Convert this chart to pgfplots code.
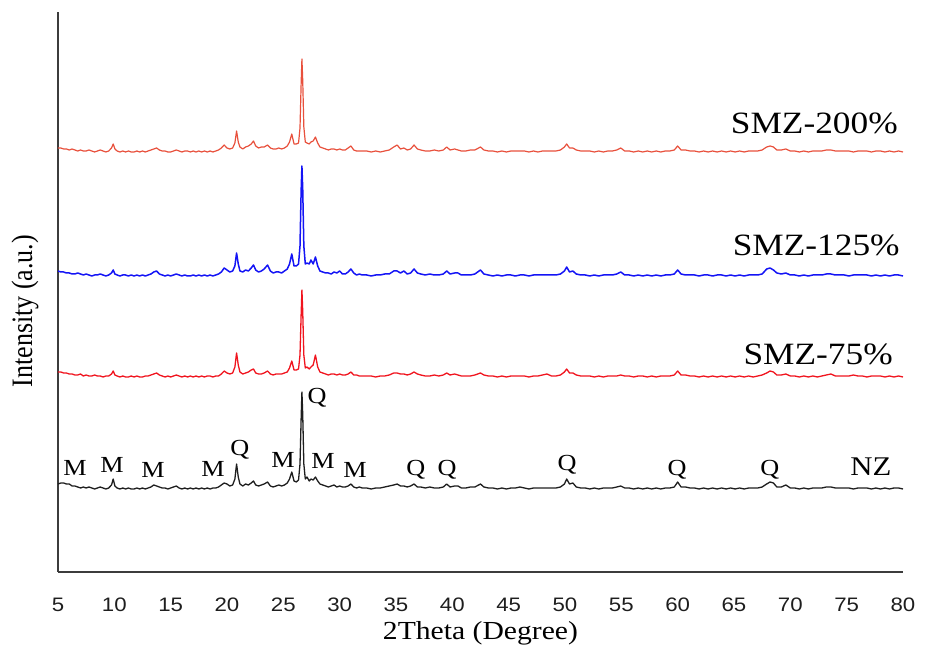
\documentclass[border=0pt]{standalone}
\usepackage{fontspec}
\usepackage{graphicx}
\usepackage{pgfplots}
\usepackage{pgfplotstable}
\pgfplotsset{compat=1.18}
\setmainfont{Liberation Serif}
\newfontfamily\sansf{Liberation Sans}

\definecolor{axisgray}{HTML}{3C3C3C}
\definecolor{nzblack}{HTML}{1E1E1E}
\definecolor{smzred}{HTML}{F0141E}
\definecolor{smzblue}{HTML}{1414F5}
\definecolor{smztomato}{HTML}{E8503C}

% slightly wide lettering
\newcommand{\wide}[1]{\scalebox{1.14}[1]{#1}}

% XRD intensities above each pattern's own baseline (2theta in degrees)
% columns: NZ, SMZ-75%, SMZ-125%, SMZ-200%
\pgfplotstableread{
tt nz a b c
5.00 5 5 5 4
5.25 6 5 4 4
5.50 6 4 4 3
5.75 5 4 3 3
6.00 5 3 3 2
6.25 3 3 2 3
6.50 3 2 2 2
6.75 2 2 3 1
7.00 1 3 2 2
7.25 2 1 1 1
7.50 1 2 2 1
7.75 2 1 1 2
8.00 1 1 0 1
8.25 0 2 1 0
8.50 1 1 1 1
8.75 2 1 2 2
9.00 1 0 1 1
9.25 0 1 0 0
9.50 1 1 1 1
9.75 4 3 3 4
9.90 10 6 6 8
10.05 3 2 2 3
10.25 1 1 1 1
10.50 0 0 0 0
10.75 1 1 1 1
11.00 0 0 1 0
11.25 1 0 0 1
11.50 0 1 1 0
11.75 0 0 0 0
12.00 1 1 1 1
12.25 0 0 0 0
12.50 1 0 1 1
12.75 0 1 0 0
13.00 1 1 1 1
13.25 2 2 2 2
13.50 4 3 4 3
13.75 3 4 5 4
14.00 2 2 2 2
14.25 1 1 1 1
14.50 1 0 0 1
14.75 0 1 1 0
15.00 1 0 0 0
15.25 2 1 1 1
15.50 3 2 2 2
15.75 1 1 1 1
16.00 0 0 0 0
16.25 1 1 1 1
16.50 0 0 0 1
16.75 1 1 0 0
17.00 0 0 1 1
17.25 1 1 0 0
17.50 0 0 1 1
17.75 1 1 0 0
18.00 0 0 1 1
18.25 1 1 0 0
18.50 0 1 1 1
18.75 1 0 0 0
19.00 1 1 1 1
19.25 2 1 2 2
19.50 4 3 4 4
19.75 6 6 8 7
20.00 5 4 6 4
20.25 3 3 4 3
20.50 4 4 5 4
20.70 10 10 10 9
20.85 25 24 23 21
21.00 12 12 12 10
21.15 5 5 5 5
21.40 3 3 4 3
21.65 5 4 6 5
21.90 4 5 5 6
22.15 6 7 8 8
22.35 8 8 11 11
22.55 4 4 6 6
22.80 3 3 4 4
23.05 4 3 5 5
23.30 5 4 7 5
23.60 7 6 11 7
23.85 3 3 5 4
24.10 2 2 3 3
24.35 3 3 4 3
24.60 4 3 4 4
24.85 3 3 3 3
25.10 4 4 5 4
25.35 6 5 7 6
25.55 10 9 12 10
25.75 17 16 22 18
25.95 8 7 10 8
26.15 7 7 10 8
26.35 9 8 12 9
26.48 25 22 30 24
26.58 70 62 85 68
26.65 97 87 110 93
26.72 75 66 88 72
26.82 25 22 30 25
26.95 10 9 12 10
27.10 12 10 13 9
27.30 8 8 12 8
27.45 10 10 16 10
27.65 9 12 12 11
27.85 12 22 19 15
28.05 8 10 10 9
28.25 5 5 5 5
28.50 4 4 4 4
28.75 3 3 3 3
29.00 2 2 3 2
29.25 3 3 2 3
29.50 4 3 4 3
29.75 2 2 3 2
30.00 3 3 5 3
30.25 2 2 2 2
30.50 2 2 2 2
30.75 3 3 4 4
31.00 5 5 7 6
31.25 2 2 3 2
31.50 1 2 1 1
31.75 2 1 2 1
32.00 1 1 1 1
32.40 1 1 1 1
32.80 0 1 0 0
33.20 1 0 1 1
33.60 1 1 1 0
34.00 2 1 2 1
34.40 3 2 2 2
34.80 4 4 5 5
35.10 5 4 5 7
35.40 3 3 3 3
35.70 3 3 5 4
36.00 2 2 2 2
36.30 3 3 3 3
36.60 5 5 7 7
36.90 2 3 3 3
37.20 2 2 2 2
37.60 1 1 1 1
38.00 2 1 2 1
38.40 1 2 1 2
38.80 1 1 1 1
39.20 2 2 2 2
39.50 5 4 5 5
39.80 2 2 2 2
40.20 3 3 3 3
40.50 3 2 3 2
40.80 1 1 1 1
41.20 1 1 1 1
41.60 2 1 1 2
42.00 2 2 2 2
42.50 5 4 6 5
42.80 2 2 2 2
43.20 1 1 1 1
43.60 1 1 0 1
44.00 0 0 1 0
44.40 1 1 0 1
44.80 0 0 1 0
45.20 1 1 1 1
45.60 1 1 0 1
46.00 2 1 1 1
46.40 1 1 1 1
46.80 0 0 0 0
47.20 1 1 1 1
47.60 1 1 1 0
48.00 1 2 1 1
48.40 1 3 1 1
48.80 1 1 1 1
49.20 1 1 1 1
49.60 2 2 2 2
49.95 5 5 5 5
50.15 10 8 9 8
50.40 5 4 4 4
50.70 6 4 5 4
51.00 2 2 2 2
51.40 1 1 1 1
51.80 1 1 1 1
52.20 0 1 0 1
52.60 1 0 1 0
53.00 0 1 0 1
53.40 1 0 1 0
53.80 1 1 1 1
54.20 1 1 1 1
54.60 2 1 2 2
54.95 3 2 4 4
55.30 1 1 1 1
55.70 1 1 1 1
56.10 0 0 0 0
56.50 1 1 1 1
56.90 0 1 0 0
57.30 1 0 1 1
57.70 0 1 0 0
58.10 1 0 1 1
58.50 0 1 0 0
58.90 1 1 1 1
59.30 1 1 1 1
59.70 2 2 2 2
60.00 7 6 6 6
60.30 2 2 2 2
60.70 2 2 1 2
61.10 1 1 1 1
61.50 1 1 1 1
61.90 0 0 0 0
62.30 1 1 1 1
62.70 0 0 1 0
63.10 1 1 0 1
63.50 0 0 1 0
63.90 1 1 1 1
64.30 0 0 0 0
64.70 1 1 1 1
65.10 0 0 0 0
65.50 1 1 1 1
65.90 0 0 0 0
66.30 1 1 1 1
66.70 1 0 1 1
67.10 1 1 1 1
67.50 2 2 2 2
67.90 5 4 7 5
68.20 7 6 8 6
68.50 6 5 6 5
68.80 2 2 3 2
69.20 2 2 2 2
69.60 4 3 3 3
70.00 1 1 1 1
70.40 1 1 1 1
70.80 0 0 0 0
71.20 1 1 1 1
71.60 0 0 0 0
72.00 1 1 1 1
72.40 1 0 1 1
72.80 1 1 1 1
73.20 2 2 2 2
73.60 2 3 2 2
74.00 1 1 1 1
74.40 1 1 1 1
74.80 1 1 1 1
75.20 1 1 0 1
75.60 0 2 1 0
76.00 1 1 1 1
76.40 1 1 1 1
76.80 1 0 1 1
77.20 0 1 0 0
77.60 1 1 1 1
78.00 0 1 0 1
78.40 1 0 1 0
78.80 0 1 0 1
79.20 1 0 1 0
79.60 1 1 1 1
80.00 0 0 0 0
}\xrd

\begin{document}
\begin{tikzpicture}
\useasboundingbox (-58pt,-78pt) rectangle (869pt,572pt);
\begin{axis}[
  scale only axis,
  width=845pt, height=560pt,
  xmin=5, xmax=80, ymin=0, ymax=560,
  axis lines=left,
  axis line style={-, line width=2pt, color=axisgray},
  xtick={5,10,...,80}, ytick=\empty,
  major tick length=0pt,
  /pgf/number format/assume math mode=true,
  xticklabel={\wide{\sansf\fontsize{19.5}{20}\selectfont\pgfmathprintnumber{\tick}}},
  xticklabel style={anchor=center, yshift=-33pt, text=nzblack},
  clip=false,
]
% stacked patterns, each lifted by its own offset
\addplot[nzblack, line width=1.3pt, line join=round] table[x=tt, y expr=\thisrow{nz}+83] {\xrd};
\addplot[smzred, line width=1.3pt, line join=round] table[x=tt, y expr=\thisrow{a}+195] {\xrd};
\addplot[smzblue, line width=1.5pt, line join=round] table[x=tt, y expr=\thisrow{b}+296] {\xrd};
\addplot[smztomato, line width=1.2pt, line join=round] table[x=tt, y expr=\thisrow{c}+420] {\xrd};

% axis titles
\node[font=\fontsize{26}{28}\selectfont] at (axis description cs:0.5,0) [yshift=-61pt] {\wide{2Theta (Degree)}};
\node[font=\fontsize{26}{28}\selectfont, xshift=-33pt, rotate=90] at (axis description cs:0,0.466) {\scalebox{1}[1.14]{Intensity (a.u.)}};

% sample names
\node[font=\fontsize{31}{33}\selectfont] at (axis cs:72.13,449) {\wide{SMZ-200\%}};
\node[font=\fontsize{31}{33}\selectfont] at (axis cs:72.30,327) {\wide{SMZ-125\%}};
\node[font=\fontsize{31}{33}\selectfont] at (axis cs:72.47,218) {\wide{SMZ-75\%}};
\node[font=\fontsize{27}{29}\selectfont] at (axis cs:77.16,105) {\wide{NZ}};

% phase markers: M = montmorillonite, Q = quartz
\begin{scope}[every node/.style={font=\fontsize{23}{25}\selectfont}]
\node at (axis cs:6.51,104) {\wide{M}};
\node at (axis cs:9.79,107) {\wide{M}};
\node at (axis cs:13.43,102) {\wide{M}};
\node at (axis cs:18.76,103) {\wide{M}};
\node at (axis cs:21.15,122) {\wide{Q}};
\node at (axis cs:24.97,112) {\wide{M}};
\node at (axis cs:27.99,174) {\wide{Q}};
\node at (axis cs:28.52,111) {\wide{M}};
\node at (axis cs:31.36,102) {\wide{M}};
\node at (axis cs:36.77,102) {\wide{Q}};
\node at (axis cs:39.53,102) {\wide{Q}};
\node at (axis cs:50.18,107) {\wide{Q}};
\node at (axis cs:59.94,102) {\wide{Q}};
\node at (axis cs:68.19,102) {\wide{Q}};
\end{scope}
\end{axis}
\end{tikzpicture}
\end{document}
